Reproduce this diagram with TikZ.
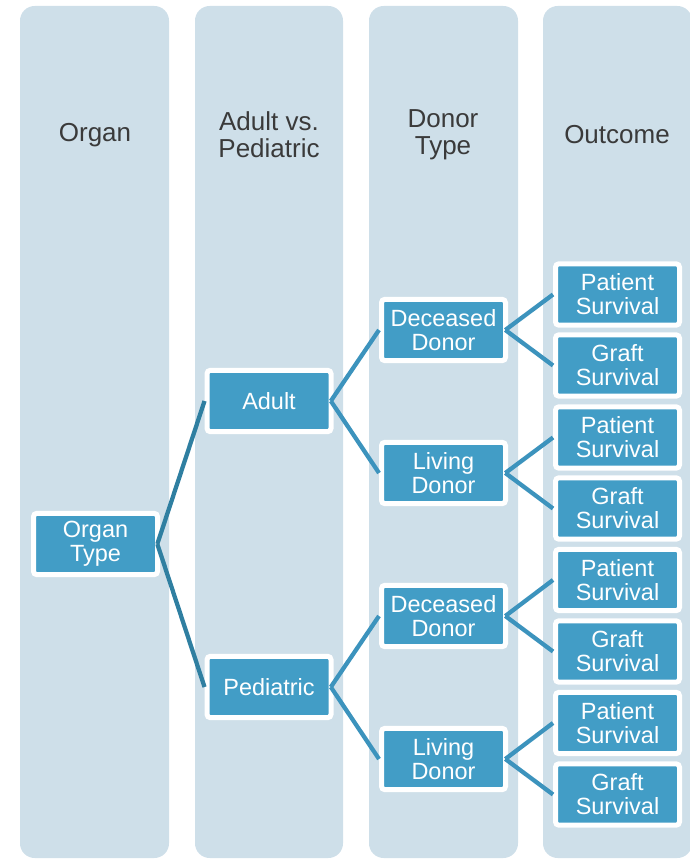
\documentclass[tikz,border=0pt]{standalone}
\usepackage{fontspec}
\setmainfont{Liberation Sans}
\definecolor{colbg}{HTML}{CEDFE9}
\definecolor{nodebg}{HTML}{429DC6}
\definecolor{linkA}{HTML}{2F7FA1}
\definecolor{linkB}{HTML}{3C93BD}
\definecolor{headtxt}{HTML}{3A3A3A}
\begin{document}
\begin{tikzpicture}[x=0.75pt,y=-0.75pt,
  column/.style={fill=colbg,draw=none,rounded corners=11pt},
  header/.style={text=headtxt,align=center,font=\fontsize{19.5}{20.5}\selectfont,inner sep=0pt},
  box/.style={fill=nodebg,draw=white,line width=3.75pt,rounded corners=2.5pt,
    minimum width=93pt,minimum height=46pt,inner sep=0pt,align=center,text=white,
    font=\fontsize{17.6}{18}\selectfont},
  linkone/.style={draw=linkA,line width=3.2pt},
  linktwo/.style={draw=linkB,line width=3.2pt}]
\useasboundingbox (0,0) rectangle (689,859);
% columns
\fill[column] (20,6) rectangle (169,858);
\fill[column] (195,6) rectangle (343,858);
\fill[column] (369,6) rectangle (518,858);
\fill[column] (543,6) rectangle (692,858);
% headers
\node[header] (h1) at (95,135) {Organ};
\node[header] (h2) at (269,135) {Adult vs.\\Pediatric};
\node[header] (h3) at (443,135) {Donor\\Type};
\node[header] (h4) at (617,135) {Outcome};
% nodes
\node[box] (ot) at (95.5,544) {Organ\\Type};
\node[box] (ad) at (269,401) {Adult};
\node[box] (pe) at (269,687) {Pediatric};
\node[box] (d1) at (443.5,330) {Deceased\\Donor};
\node[box] (l1) at (443.5,473) {Living\\Donor};
\node[box] (d2) at (443.5,616) {Deceased\\Donor};
\node[box] (l2) at (443.5,759) {Living\\Donor};
\node[box] (p1) at (617.5,294.5) {Patient\\Survival};
\node[box] (g1) at (617.5,365.5) {Graft\\Survival};
\node[box] (p2) at (617.5,437.5) {Patient\\Survival};
\node[box] (g2) at (617.5,508.5) {Graft\\Survival};
\node[box] (p3) at (617.5,580) {Patient\\Survival};
\node[box] (g3) at (617.5,651.5) {Graft\\Survival};
\node[box] (p4) at (617.5,723) {Patient\\Survival};
\node[box] (g4) at (617.5,794.5) {Graft\\Survival};
% connectors
\draw[linkone] ([xshift=-2pt]ot.east) -- (ad.west);
\draw[linkone] ([xshift=-2pt]ot.east) -- (pe.west);
\draw[linktwo] ([xshift=-2pt]ad.east) -- (d1.west);
\draw[linktwo] ([xshift=-2pt]ad.east) -- (l1.west);
\draw[linktwo] ([xshift=-2pt]pe.east) -- (d2.west);
\draw[linktwo] ([xshift=-2pt]pe.east) -- (l2.west);
\draw[linktwo] ([xshift=-2pt]d1.east) -- (p1.west);
\draw[linktwo] ([xshift=-2pt]d1.east) -- (g1.west);
\draw[linktwo] ([xshift=-2pt]l1.east) -- (p2.west);
\draw[linktwo] ([xshift=-2pt]l1.east) -- (g2.west);
\draw[linktwo] ([xshift=-2pt]d2.east) -- (p3.west);
\draw[linktwo] ([xshift=-2pt]d2.east) -- (g3.west);
\draw[linktwo] ([xshift=-2pt]l2.east) -- (p4.west);
\draw[linktwo] ([xshift=-2pt]l2.east) -- (g4.west);
\end{tikzpicture}
\end{document}
